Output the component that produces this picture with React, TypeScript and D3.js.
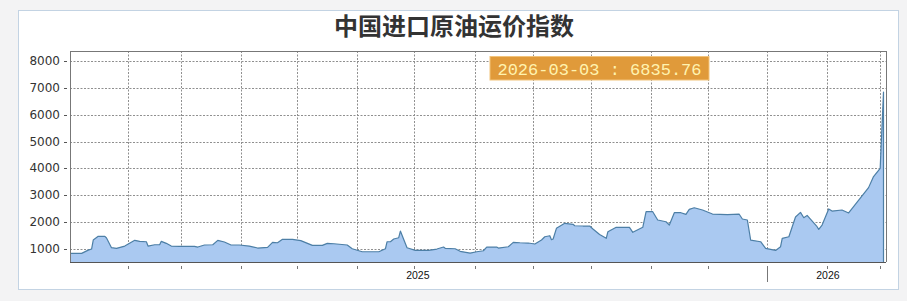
import React from "react";
import * as d3 from "d3";

const title = "中国进口原油运价指数";
const lastDate = "2026-03-03";

// trading-day index of each reading and index value
const dayIndex = [
  0, 7, 11, 13, 14, 17, 21, 22, 25, 28, 33, 39, 42, 46, 47, 51, 54, 55, 58, 61,
  66, 75, 77, 81, 86, 89, 93, 97, 102, 108, 113, 119, 122, 125, 128, 134, 139, 146, 152, 155,
  159, 167, 170, 176, 186, 190, 191, 193, 195, 198, 199, 203, 208, 216, 221, 225, 226, 232, 235, 241,
  245, 249, 251, 257, 258, 264, 267, 271, 276, 280, 284, 286, 289, 290, 291, 293, 298, 303, 304, 309,
  313, 315, 319, 323, 324, 329, 337, 339, 345, 347, 351, 354, 359, 361, 364, 368, 371, 373, 376, 381,
  387, 396, 403, 405, 408, 410, 416, 419, 425, 428, 429, 433, 437, 440, 442, 444, 450, 451, 453, 457,
  459, 465, 469, 481, 484, 488, 490,
];
const indexValues = [
  851, 851, 970, 1011, 1345, 1483, 1483, 1420, 1060, 1037, 1122, 1334, 1297, 1282, 1122, 1171, 1171, 1297, 1223, 1122,
  1111, 1111, 1085, 1160, 1171, 1334, 1271, 1160, 1160, 1122, 1048, 1074, 1260, 1245, 1371, 1371, 1325, 1148, 1148, 1223,
  1208, 1160, 1022, 911, 911, 1022, 1282, 1282, 1382, 1431, 1679, 1060, 960, 960, 1011, 1085, 1037, 1022, 926, 860,
  911, 948, 1085, 1085, 1048, 1097, 1260, 1245, 1234, 1197, 1345, 1468, 1505, 1356, 1382, 1780, 1965, 1928, 1876, 1865,
  1865, 1754, 1550, 1408, 1653, 1817, 1817, 1631, 1817, 2396, 2396, 2088, 2025, 1902, 2359, 2359, 2299, 2485, 2544, 2459,
  2310, 2290, 2310, 2125, 2088, 1345, 1282, 1037, 960, 1097, 1408, 1468, 2200, 2373, 2173, 2260, 1839, 1742, 1902, 2500,
  2420, 2459, 2350, 3290, 3700, 4007, 6835.76,
];

const yTicks = [1000, 2000, 3000, 4000, 5000, 6000, 7000, 8000];
const xTickIdx = [35, 67, 103, 137, 173, 207, 244, 279, 314, 350, 384, 420, 456, 488];
const yearLabels = ["2025", "2026"];
const yearLabelIdx = [209.5, 456.5];
const longTickIdx = [420];

export default function App() {
  const W = 907;
  const H = 301;
  const L = 70, R = 886, T = 51, B = 262;
  const x = d3.scaleLinear().domain([0, 490]).range([70, 883.5]);
  const y = d3.scaleLinear().domain([530, 8360]).range([B, T]);
  const data = dayIndex.map((d, i) => ({ i: d, v: indexValues[i] }));
  const area = d3
    .area<{ i: number; v: number }>()
    .x((d) => x(d.i))
    .y0(y(530))
    .y1((d) => y(d.v));
  const line = d3
    .line<{ i: number; v: number }>()
    .x((d) => x(d.i))
    .y((d) => y(d.v));
  const last = data[data.length - 1];
  const linePath = line(data) + `L${x(last.i)},${y(530)}`;
  const tipText = `${lastDate} : ${last.v.toFixed(2)}`;

  return (
    <svg
      width={W}
      height={H}
      style={{ position: "absolute", left: 0, top: 0, display: "block" }}
    >
      <rect x={0} y={0} width={W} height={H} fill="#f3f3f4" />
      <rect x={18.5} y={10.5} width={880} height={279} fill="#ffffff" stroke="#c3d3e3" />
      <text
        x={454}
        y={35}
        textAnchor="middle"
        fontFamily="'Noto Sans CJK SC', sans-serif"
        fontWeight="bold"
        fontSize={24}
        fill="#333"
      >
        {title}
      </text>
      {/* grid */}
      <g stroke="#8f8f8f" strokeWidth={1} strokeDasharray="2,1.5" fill="none">
        {yTicks.map((t) => (
          <line key={"h" + t} x1={L} x2={R} y1={Math.round(y(t)) + 0.5} y2={Math.round(y(t)) + 0.5} />
        ))}
        {xTickIdx.map((t) => (
          <line key={"v" + t} x1={Math.round(x(t)) + 0.5} x2={Math.round(x(t)) + 0.5} y1={T} y2={B} />
        ))}
      </g>
      {/* area */}
      <path d={area(data) || ""} fill="#aac9f1" />
      <path d={linePath} fill="none" stroke="#4d7fa6" strokeWidth={1.2} strokeLinejoin="round" />
      {/* frame */}
      <g stroke="#777" strokeWidth={1} fill="none">
        <line x1={L} x2={R} y1={T + 0.5} y2={T + 0.5} />
        <line x1={R + 0.5} x2={R + 0.5} y1={T} y2={B} />
        <line x1={L + 0.5} x2={L + 0.5} y1={T} y2={B} />
        <line x1={L} x2={R} y1={B + 0.5} y2={B + 0.5} stroke="#555" />
      </g>
      {/* y axis ticks & labels */}
      {yTicks.map((t) => (
        <g key={"yt" + t}>
          <line x1={64} x2={67} y1={Math.round(y(t)) + 0.5} y2={Math.round(y(t)) + 0.5} stroke="#555" />
          <text
            x={60}
            y={y(t) + 4}
            textAnchor="end"
            fontFamily="'DejaVu Sans', sans-serif"
            fontSize={12}
            fill="#333"
          >
            {t}
          </text>
        </g>
      ))}
      {/* x ticks */}
      {xTickIdx.map((t) => (
        <line
          key={"xt" + t}
          x1={Math.round(x(t)) + 0.5}
          x2={Math.round(x(t)) + 0.5}
          y1={266}
          y2={longTickIdx.includes(t) ? 282 : 269}
          stroke="#777"
        />
      ))}
      {yearLabels.map((l, i) => (
        <text
          key={l}
          x={x(yearLabelIdx[i])}
          y={279}
          textAnchor="middle"
          fontFamily="'Liberation Sans', Arial, sans-serif"
          fontSize={10.5}
          fill="#111"
        >
          {l}
        </text>
      ))}
      {/* tooltip */}
      <rect x={490} y={56.5} width={219} height={23.5} fill="#e09a3a" stroke="#f2c37a" strokeWidth={1} />
      <text
        x={599.5}
        y={74.5}
        textAnchor="middle"
        fontFamily="'Liberation Mono', monospace"
        fontSize={17}
        fill="#fff3b0"
      >
        {tipText}
      </text>
    </svg>
  );
}
